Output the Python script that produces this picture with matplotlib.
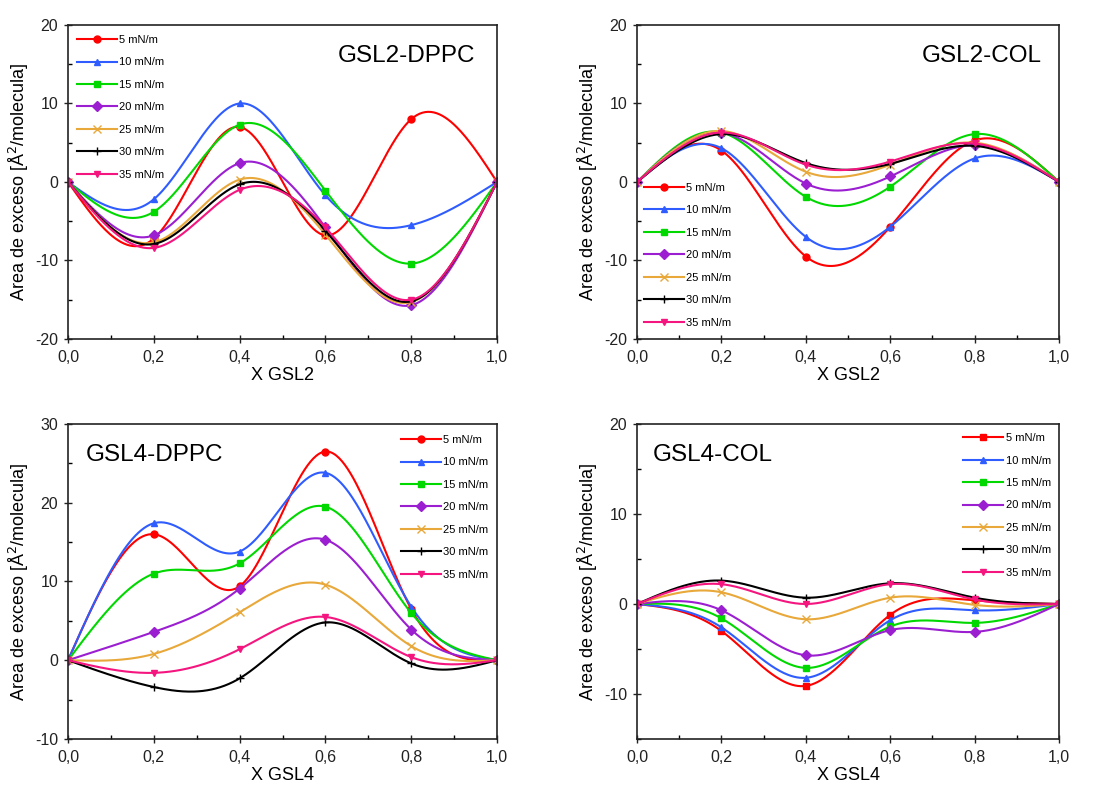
import numpy as np
import matplotlib
matplotlib.use("Agg")
import matplotlib.pyplot as plt
from matplotlib.ticker import MultipleLocator, FuncFormatter

plt.rcParams['font.family'] = ['Liberation Sans', 'DejaVu Sans']

# composición (fracción molar) y presiones superficiales
x_frac = [0.0, 0.2, 0.4, 0.6, 0.8, 1.0]
labels = ["5 mN/m", "10 mN/m", "15 mN/m", "20 mN/m", "25 mN/m", "30 mN/m", "35 mN/m"]

# área de exceso, una fila por presión (5 ... 35 mN/m)
gsl2_dppc = [
    [0, -7.2, 7.0, -6.8, 8.0, 0],
    [0, -2.2, 10.0, -1.7, -5.5, 0],
    [0, -3.8, 7.3, -1.1, -10.4, 0],
    [0, -6.8, 2.4, -5.8, -15.7, 0],
    [0, -7.7, 0.3, -6.7, -15.3, 0],
    [0, -7.9, -0.3, -6.2, -15.2, 0],
    [0, -8.4, -1.0, -5.8, -15.0, 0],
]
gsl2_col = [
    [0, 4.0, -9.5, -5.7, 5.3, 0],
    [0, 4.3, -7.0, -5.7, 3.0, 0],
    [0, 6.3, -1.9, -0.6, 6.1, 0],
    [0, 6.3, -0.2, 0.7, 4.7, 0],
    [0, 6.5, 1.3, 2.2, 5.0, 0],
    [0, 6.1, 2.4, 2.3, 4.6, 0],
    [0, 6.3, 2.2, 2.6, 4.9, 0],
]
gsl4_dppc = [
    [0, 16.0, 9.4, 26.5, 6.5, 0],
    [0, 17.4, 13.8, 23.8, 6.8, 0],
    [0, 11.0, 12.3, 19.5, 6.0, 0],
    [0, 3.6, 9.1, 15.3, 3.9, 0],
    [0, 0.8, 6.1, 9.6, 1.8, 0],
    [0, -3.4, -2.3, 4.8, -0.4, 0],
    [0, -1.6, 1.4, 5.5, 0.4, 0],
]
gsl4_col = [
    [0, -3.0, -9.1, -1.2, 0.4, 0],
    [0, -2.6, -8.2, -1.8, -0.7, 0],
    [0, -1.6, -7.1, -2.5, -2.1, 0],
    [0, -0.7, -5.7, -2.9, -3.1, 0],
    [0, 1.3, -1.7, 0.7, -0.1, 0],
    [0, 2.6, 0.7, 2.3, 0.7, 0],
    [0, 2.2, 0.0, 2.2, 0.5, 0],
]

colors = ['#FF0000', '#2F5CFF', '#00D800', '#9B1FD1', '#E8A83A', '#000000', '#F5157F']
markers = ['o', '^', 's', 'D', 'x', '+', 'v']


def natural_spline(x, y, xs):
    # spline cúbico natural (segunda derivada nula en los extremos)
    x = np.asarray(x, float)
    y = np.asarray(y, float)
    n = len(x)
    h = np.diff(x)
    A = np.zeros((n, n))
    b = np.zeros(n)
    A[0, 0] = 1
    A[-1, -1] = 1
    for i in range(1, n - 1):
        A[i, i - 1] = h[i - 1]
        A[i, i] = 2 * (h[i - 1] + h[i])
        A[i, i + 1] = h[i]
        b[i] = 6 * ((y[i + 1] - y[i]) / h[i] - (y[i] - y[i - 1]) / h[i - 1])
    M = np.linalg.solve(A, b)
    idx = np.clip(np.searchsorted(x, xs) - 1, 0, n - 2)
    x0, x1 = x[idx], x[idx + 1]
    hh = x1 - x0
    t0 = x1 - xs
    t1 = xs - x0
    return (M[idx] * t0**3 / (6 * hh) + M[idx + 1] * t1**3 / (6 * hh)
            + (y[idx] / hh - M[idx] * hh / 6) * t0
            + (y[idx + 1] / hh - M[idx + 1] * hh / 6) * t1)


fig = plt.figure(figsize=(11.06, 7.85), dpi=100)

panels = [
    # datos, título, eje x, ylim, posición axes, posición título, leyenda
    (gsl2_dppc, "GSL2-DPPC", "X GSL2", (-20, 20), [0.0615, 0.5682, 0.3879, 0.400], (0.95, 0.90), (0.021, 0.968)),
    (gsl2_col, "GSL2-COL", "X GSL2", (-20, 20), [0.5760, 0.5682, 0.3816, 0.400], (0.96, 0.90), (0.017, 0.497)),
    (gsl4_dppc, "GSL4-DPPC", "X GSL4", (-10, 30), [0.0615, 0.0586, 0.3879, 0.4013], (0.042, 0.90), (0.776, 0.965)),
    (gsl4_col, "GSL4-COL", "X GSL4", (-15, 20), [0.5760, 0.0586, 0.3816, 0.4013], (0.038, 0.90), (0.773, 0.971)),
]

xs = np.linspace(0, 1, 300)

for k, (data, title, xlabel, ylim, pos, tpos, lpos) in enumerate(panels):
    ax = fig.add_axes(pos)
    for i, ys in enumerate(data):
        mk = markers[i]
        if k == 3 and i == 0:
            mk = 's'
        ms = 6 if mk in ('x', '+') else 5
        ax.plot(xs, natural_spline(x_frac, ys, xs), color=colors[i], lw=1.5)
        ax.plot(x_frac, ys, linestyle='none', marker=mk, ms=ms, color=colors[i], mew=1.0)
        # entrada de leyenda (línea + símbolo)
        ax.plot([], [], color=colors[i], lw=1.5, marker=mk, ms=ms, mew=1.0, label=labels[i])

    ax.set_xlim(0, 1)
    ax.set_ylim(*ylim)
    ax.xaxis.set_major_locator(MultipleLocator(0.2))
    ax.xaxis.set_minor_locator(MultipleLocator(0.1))
    ax.yaxis.set_major_locator(MultipleLocator(10))
    ax.yaxis.set_minor_locator(MultipleLocator(5))
    ax.xaxis.set_major_formatter(FuncFormatter(lambda v, p: f"{v:.1f}".replace('.', ',')))
    ax.yaxis.set_major_formatter(FuncFormatter(lambda v, p: f"{v:.0f}"))
    ax.tick_params(which='major', direction='inout', length=6, width=1.0, labelsize=11.5, pad=4,
                   top=False, right=False, colors='#222222')
    ax.tick_params(axis='x', which='major', pad=5)
    ax.tick_params(which='minor', direction='in', length=3, width=1.0, top=False, right=False)
    for s in ax.spines.values():
        s.set_linewidth(1.2)
        s.set_color('#222222')

    ax.set_xlabel(xlabel, fontsize=13, labelpad=1.5)
    ax.set_ylabel("Area de exceso [Å$^2$/molecula]", fontsize=13, labelpad=3)

    ha = 'right' if tpos[0] > 0.5 else 'left'
    ax.text(tpos[0], tpos[1], title, transform=ax.transAxes, fontsize=17.5, ha=ha, va='center')

    ax.legend(loc='upper left', bbox_to_anchor=lpos, frameon=False, fontsize=8,
              handlelength=3.6, handletextpad=0.2, labelspacing=1.12,
              borderpad=0, borderaxespad=0)

fig.savefig("out.png", dpi=100)
